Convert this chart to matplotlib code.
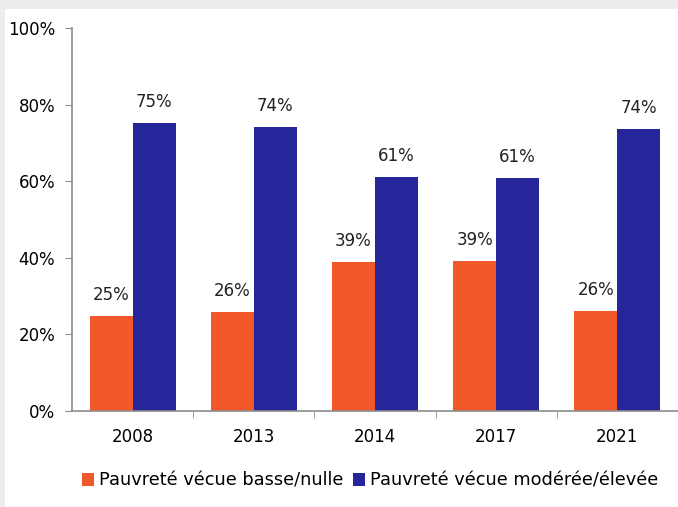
import numpy as np
import matplotlib
matplotlib.use("Agg")
import matplotlib.pyplot as plt
from matplotlib.patches import Rectangle

years = ["2008", "2013", "2014", "2017", "2021"]
low_vals = [24.8, 25.8, 38.9, 39.1, 26.1]
high_vals = [75.2, 74.1, 61.1, 60.8, 73.6]
series_names = ["Pauvreté vécue basse/nulle", "Pauvreté vécue modérée/élevée"]
yticks = [0, 20, 40, 60, 80, 100]

c_low = "#F1592B"
c_high = "#26269A"
grey = "#8C8C8C"
fs = 12

plt.rcParams["font.family"] = ["DejaVu Sans"]

fig = plt.figure(figsize=(6.78, 5.07), dpi=100, facecolor="#EDEDED")
fig.patches.append(Rectangle((5 / 678, 0), 1, (507 - 9) / 507, transform=fig.transFigure,
                             facecolor="white", edgecolor="none", zorder=-1))
ax = fig.add_axes([72 / 678, (507 - 411) / 507, 606 / 678, 383 / 507])
ax.set_facecolor("none")

x = np.arange(len(years))
w = 0.355
b1 = ax.bar(x - w / 2, low_vals, w, color=c_low, label=series_names[0])
b2 = ax.bar(x + w / 2, high_vals, w, color=c_high, label=series_names[1])

for bars, vals in ((b1, low_vals), (b2, high_vals)):
    for r, v in zip(bars, vals):
        ax.annotate(f"{round(v):d}%", (r.get_x() + r.get_width() / 2, v),
                    xytext=(0, 15), textcoords="offset points",
                    ha="center", va="center", fontsize=fs, color="#222222")

ax.set_xlim(-0.5, len(years) - 0.5)
ax.set_ylim(0, 100)
ax.set_yticks(yticks)
ax.set_yticklabels([f"{t}%" for t in yticks], fontsize=fs)
ax.set_xticks(x)
ax.set_xticklabels(years, fontsize=fs)
ax.set_xticks(np.arange(len(years)) + 0.5, minor=True)
ax.tick_params(axis="x", which="major", length=0, pad=12)
ax.tick_params(axis="x", which="minor", length=5, color=grey)
ax.tick_params(axis="y", length=5, color=grey, pad=7)

for s in ("top", "right"):
    ax.spines[s].set_visible(False)
for s in ("left", "bottom"):
    ax.spines[s].set_color(grey)
    ax.spines[s].set_linewidth(1.2)

fig.legend(handles=[b1, b2], loc="center", bbox_to_anchor=(0.546, 0.052), ncol=2,
           frameon=False, fontsize=12.8, handlelength=0.7, handleheight=0.7,
           handletextpad=0.3, columnspacing=0.5)

fig.savefig("out.png", dpi=100, facecolor=fig.get_facecolor())
